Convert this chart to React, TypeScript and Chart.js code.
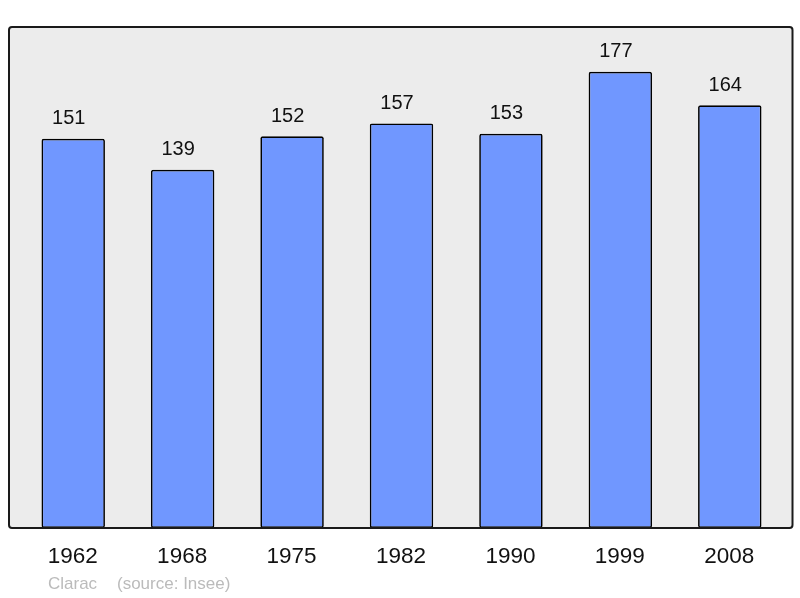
import React, { useEffect, useRef } from "react";
import { Chart, registerables } from "chart.js";

Chart.register(...registerables);

const years = ["1962", "1968", "1975", "1982", "1990", "1999", "2008"];
const population = [151, 139, 152, 157, 153, 177, 164];
const townName = "Clarac";
const sourceText = "(source: Insee)";

const FONT = "'Liberation Sans', Arial, sans-serif";

const decorPlugin = {
  id: "decor",
  beforeDraw(chart: any) {
    const { ctx, chartArea } = chart;
    const x0 = chartArea.left - 9.5;
    const x1 = chartArea.right + 8;
    const y0 = chartArea.top;
    const y1 = chartArea.bottom;
    ctx.save();
    ctx.fillStyle = "#ffffff";
    ctx.fillRect(0, 0, chart.width, chart.height);
    ctx.beginPath();
    ctx.roundRect(x0, y0, x1 - x0, y1 - y0, 3);
    ctx.fillStyle = "#ececec";
    ctx.fill();
    ctx.restore();
  },
  afterDatasetsDraw(chart: any) {
    const { ctx, chartArea } = chart;
    const x0 = chartArea.left - 9.5;
    const x1 = chartArea.right + 8;
    const y0 = chartArea.top;
    const y1 = chartArea.bottom;
    ctx.save();
    ctx.beginPath();
    ctx.roundRect(x0, y0, x1 - x0, y1 - y0, 3);
    ctx.lineWidth = 2;
    ctx.strokeStyle = "#1a1a1a";
    ctx.stroke();

    const xs = chart.scales.x;
    const ys = chart.scales.y;
    ctx.textAlign = "center";
    ctx.textBaseline = "middle";
    years.forEach((yr, i) => {
      const px = xs.getPixelForValue(i);
      ctx.fillStyle = "#111";
      ctx.font = `22.5px ${FONT}`;
      ctx.fillText(yr, px - 0.5, 557);
      ctx.font = `20px ${FONT}`;
      ctx.fillText(String(population[i]), px - 4.5, ys.getPixelForValue(population[i]) - 20);
    });
    ctx.font = `17px ${FONT}`;
    ctx.fillStyle = "#bbbbbb";
    ctx.textAlign = "left";
    ctx.fillText(townName, 48, 584);
    ctx.fillText(sourceText, 117, 584);
    ctx.restore();
  },
};

export default function App() {
  const ref = useRef<HTMLCanvasElement | null>(null);
  useEffect(() => {
    if (!ref.current) return;
    const chart = new Chart(ref.current, {
      type: "bar",
      data: {
        labels: years,
        datasets: [
          {
            data: population,
            backgroundColor: "#7097ff",
            borderColor: "#000000",
            borderWidth: 1.7,
            borderRadius: 2,
            borderSkipped: false,
            categoryPercentage: 0.58,
            barPercentage: 1,
          },
        ],
      },
      options: {
        animation: false,
        responsive: false,
        maintainAspectRatio: false,
        layout: { padding: { left: 18.5, right: 15.5, top: 27, bottom: 70 } },
        plugins: { legend: { display: false }, tooltip: { enabled: false } },
        scales: {
          x: { display: false },
          y: { display: false, min: 0, max: 194.4 },
        },
      },
      plugins: [decorPlugin],
    });
    return () => chart.destroy();
  }, []);
  return (
    <div style={{ position: "fixed", left: 0, top: 0, width: 800, height: 598 }}>
      <canvas ref={ref} width={800} height={598} style={{ width: 800, height: 598 }} />
    </div>
  );
}
